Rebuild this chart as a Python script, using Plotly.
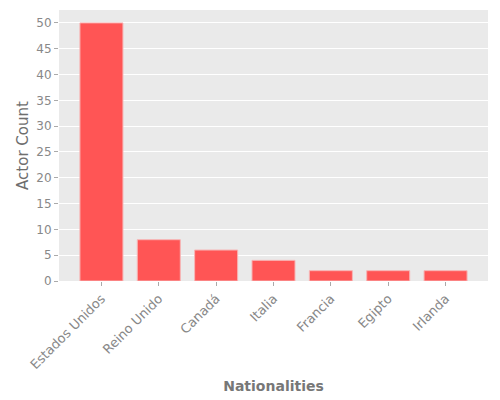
import plotly.graph_objects as go

# Data
nationalities = ['Estados Unidos', 'Reino Unido', 'Canadá', 'Italia', 'Francia', 'Egipto', 'Irlanda']
actor_counts = [50, 8, 6, 4, 2, 2, 2]
y_ticks = [0, 5, 10, 15, 20, 25, 30, 35, 40, 45, 50]

grey = '#777777'

data = [go.Bar(
    x=list(range(len(nationalities))),
    y=actor_counts,
    width=0.75,
    marker=dict(color='#FF5555', line=dict(color='#F7B5B5', width=1)),
)]

layout = go.Layout(
    width=500, height=400,
    margin=dict(l=59, r=12, t=10, b=119),
    paper_bgcolor='white',
    plot_bgcolor='#EAEAEA',
    font=dict(family='DejaVu Sans', color=grey, size=12),
    showlegend=False,
    xaxis=dict(
        range=[-0.74, 6.74],
        tickvals=list(range(len(nationalities))),
        ticktext=nationalities,
        tickangle=-45,
        tickfont=dict(size=13, color='#888888'),
        ticks='outside', ticklen=4, tickcolor='#AAAAAA',
        showgrid=False, zeroline=False, automargin=False,
        title=dict(text='<b>Nationalities</b>', font=dict(size=14, color=grey), standoff=10),
    ),
    yaxis=dict(
        range=[0, 52.5],
        tickvals=y_ticks,
        tickfont=dict(color='#888888'),
        ticks='outside', ticklen=4, tickcolor='#AAAAAA',
        gridcolor='white', gridwidth=1, zeroline=False, automargin=False,
        title=dict(text='Actor Count', font=dict(size=15, color='#6E6E6E'), standoff=4),
    ),
)

fig = go.Figure(data, layout)
fig.write_html('out.html', config={'displayModeBar': False},
               post_script="document.body.style.margin='0';")
